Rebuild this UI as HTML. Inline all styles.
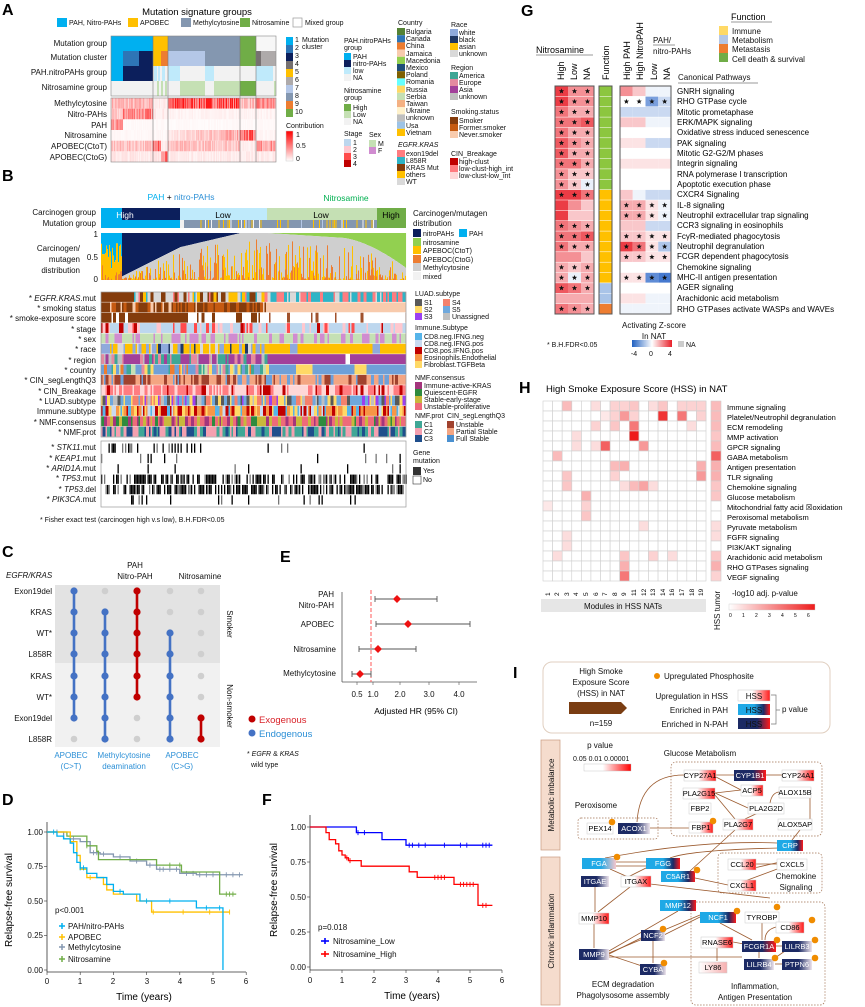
<!DOCTYPE html>
<html><head><meta charset="utf-8">
<style>
html,body{margin:0;padding:0;background:#fff;}
svg{display:block;font-family:"Liberation Sans",Arial,sans-serif;}
.pl{font-size:16px;font-weight:bold;}
.t{font-size:8px;fill:#111;}
.s{font-size:7px;fill:#111;}
.r{text-anchor:end;}
.m{text-anchor:middle;}
.it{font-style:italic;}
</style></head>
<body>
<svg id="sv" xmlns="http://www.w3.org/2000/svg" width="865" height="1007" viewBox="0 0 865 1007">
<defs>
<linearGradient id="gw" x1="0" x2="1"><stop offset="0" stop-color="#fff"/><stop offset="0.45" stop-color="#fff"/><stop offset="1" stop-color="#ff1a1a"/></linearGradient>
<linearGradient id="gw2" x1="0" x2="1"><stop offset="0" stop-color="#fff"/><stop offset="1" stop-color="#f6b0b0"/></linearGradient>
<linearGradient id="gnav" x1="0" x2="1"><stop offset="0" stop-color="#1c2a64"/><stop offset="0.55" stop-color="#1c2a64"/><stop offset="1" stop-color="#efe6ee"/></linearGradient>
<linearGradient id="gnr" x1="0" x2="1"><stop offset="0" stop-color="#1c2a64"/><stop offset="0.6" stop-color="#1c2a64"/><stop offset="1" stop-color="#ff1a1a"/></linearGradient>
<linearGradient id="gcr" x1="0" x2="1"><stop offset="0" stop-color="#1fa9e6"/><stop offset="0.5" stop-color="#1fa9e6"/><stop offset="0.8" stop-color="#1c2a64"/><stop offset="1" stop-color="#ff1a1a"/></linearGradient>
<linearGradient id="gcw" x1="0" x2="1"><stop offset="0" stop-color="#1fa9e6"/><stop offset="0.55" stop-color="#1fa9e6"/><stop offset="1" stop-color="#f6c6cc"/></linearGradient>
<linearGradient id="gcont" x1="0" x2="0" y1="0" y2="1"><stop offset="0" stop-color="#ff0000"/><stop offset="1" stop-color="#fff"/></linearGradient>
<linearGradient id="gz" x1="0" x2="1"><stop offset="0" stop-color="#2060c0"/><stop offset="0.5" stop-color="#fff"/><stop offset="1" stop-color="#e8202a"/></linearGradient>
<linearGradient id="gh" x1="0" x2="1"><stop offset="0" stop-color="#fff"/><stop offset="1" stop-color="#ee1c1c"/></linearGradient>
<linearGradient id="gp" x1="0" x2="1"><stop offset="0" stop-color="#fff"/><stop offset="0.4" stop-color="#fff"/><stop offset="1" stop-color="#ff0000"/></linearGradient>
</defs>
<g id="gfx"></g>

<!-- ===== A ===== -->
<text x="2" y="15" class="pl">A</text>
<text x="197" y="15" font-size="9.5" class="m">Mutation signature groups</text>
<rect x="57" y="18" width="10" height="9" fill="#00b0f0"/><text x="69" y="25" class="s">PAH, Nitro-PAHs</text>
<rect x="128" y="18" width="10" height="9" fill="#ffc000"/><text x="140" y="25" class="s">APOBEC</text>
<rect x="181" y="18" width="10" height="9" fill="#8497b0"/><text x="193" y="25" class="s">Methylcytosine</text>
<rect x="240" y="18" width="10" height="9" fill="#70ad47"/><text x="252" y="25" class="s">Nitrosamine</text>
<rect x="293" y="18" width="9" height="9" fill="#fff" stroke="#999" stroke-width="0.7"/><text x="305" y="25" class="s">Mixed group</text>
<text x="107" y="46" class="t r">Mutation group</text>
<text x="107" y="60" class="t r">Mutation cluster</text>
<text x="107" y="75" class="t r">PAH.nitroPAHs group</text>
<text x="107" y="90" class="t r">Nitrosamine group</text>
<text x="107" y="106" class="t r">Methylcytosine</text>
<text x="107" y="117" class="t r">Nitro-PAHs</text>
<text x="107" y="128" class="t r">PAH</text>
<text x="107" y="138" class="t r">Nitrosamine</text>
<text x="107" y="149" class="t r">APOBEC(CtoT)</text>
<text x="107" y="160" class="t r">APOBEC(CtoG)</text>
<!-- A legends -->
<g class="s">
<text x="295" y="42" class="s">1</text><text x="295" y="50" class="s">2</text><text x="295" y="58" class="s">3</text><text x="295" y="66" class="s">4</text><text x="295" y="74" class="s">5</text><text x="295" y="82" class="s">6</text><text x="295" y="90" class="s">7</text><text x="295" y="98" class="s">8</text><text x="295" y="106" class="s">9</text><text x="295" y="114" class="s">10</text>
</g>
<text x="302" y="42" class="s">Mutation</text><text x="302" y="49" class="s">cluster</text>
<text x="286" y="128" class="s">Contribution</text>
<rect x="286" y="131" width="7" height="30" fill="url(#gcont)" stroke="#ccc" stroke-width="0.5"/>
<text x="296" y="137" class="s">1</text><text x="296" y="148" class="s">0.5</text><text x="296" y="161" class="s">0</text>
<text x="344" y="43" class="s">PAH.nitroPAHs</text><text x="344" y="50" class="s">group</text>
<rect x="344" y="53" width="7" height="7" fill="#00b0f0"/><text x="353" y="59" class="s">PAH</text>
<rect x="344" y="60" width="7" height="7" fill="#0c1f5c"/><text x="353" y="66" class="s">nitro-PAHs</text>
<rect x="344" y="67" width="7" height="7" fill="#bfeafb"/><text x="353" y="73" class="s">low</text>
<rect x="344" y="74" width="7" height="7" fill="#f2f2f2"/><text x="353" y="80" class="s">NA</text>
<text x="344" y="93" class="s">Nitrosamine</text><text x="344" y="100" class="s">group</text>
<rect x="344" y="104" width="7" height="7" fill="#70ad47"/><text x="353" y="110" class="s">High</text>
<rect x="344" y="111" width="7" height="7" fill="#c5e0b4"/><text x="353" y="117" class="s">Low</text>
<rect x="344" y="118" width="7" height="7" fill="#f2f2f2"/><text x="353" y="124" class="s">NA</text>
<text x="344" y="136" class="s">Stage</text>
<rect x="344" y="139" width="7" height="7" fill="#bdd7ee"/><text x="353" y="145" class="s">1</text>
<rect x="344" y="146" width="7" height="7" fill="#ffc7ce"/><text x="353" y="152" class="s">2</text>
<rect x="344" y="153" width="7" height="7" fill="#ff4b4b"/><text x="353" y="159" class="s">3</text>
<rect x="344" y="160" width="7" height="7" fill="#c00000"/><text x="353" y="166" class="s">4</text>
<text x="369" y="137" class="s">Sex</text>
<rect x="369" y="140" width="7" height="7" fill="#c5e0b4"/><text x="378" y="146" class="s">M</text>
<rect x="369" y="147" width="7" height="7" fill="#d08cd0"/><text x="378" y="153" class="s">F</text>
<text x="398" y="25" class="s">Country</text>
<g id="country"></g>
<text x="406" y="34" class="s">Bulgaria</text><text x="406" y="41" class="s">Canada</text><text x="406" y="48" class="s">China</text><text x="406" y="56" class="s">Jamaica</text><text x="406" y="63" class="s">Macedonia</text><text x="406" y="70" class="s">Mexico</text><text x="406" y="77" class="s">Poland</text><text x="406" y="84" class="s">Romania</text><text x="406" y="92" class="s">Russia</text><text x="406" y="99" class="s">Serbia</text><text x="406" y="106" class="s">Taiwan</text><text x="406" y="113" class="s">Ukraine</text><text x="406" y="120" class="s">unknown</text><text x="406" y="128" class="s">Usa</text><text x="406" y="135" class="s">Vietnam</text>
<text x="398" y="147" class="s it">EGFR.KRAS</text>
<text x="406" y="156" class="s">exon19del</text><text x="406" y="163" class="s">L858R</text><text x="406" y="170" class="s">KRAS Mut</text><text x="406" y="177" class="s">others</text><text x="406" y="184" class="s">WT</text>
<text x="451" y="27" class="s">Race</text>
<text x="459" y="35" class="s">white</text><text x="459" y="42" class="s">black</text><text x="459" y="49" class="s">asian</text><text x="459" y="56" class="s">unknown</text>
<text x="451" y="70" class="s">Region</text>
<text x="459" y="78" class="s">America</text><text x="459" y="85" class="s">Europe</text><text x="459" y="92" class="s">Asia</text><text x="459" y="99" class="s">unknown</text>
<text x="451" y="114" class="s">Smoking.status</text>
<text x="459" y="123" class="s">Smoker</text><text x="459" y="130" class="s">Former.smoker</text><text x="459" y="137" class="s">Never.smoker</text>
<text x="451" y="156" class="s">CIN_Breakage</text>
<text x="459" y="164" class="s">high-clust</text><text x="459" y="171" class="s">low-clust-high_int</text><text x="459" y="178" class="s">low-clust-low_int</text>

<!-- ===== B ===== -->
<text x="2" y="181" class="pl">B</text>
<text x="181" y="200" font-size="8.5" class="m"><tspan fill="#00b0f0">PAH</tspan> + <tspan fill="#2b8fd6">nitro-PAHs</tspan></text>
<text x="346" y="201" font-size="8.5" class="m" fill="#00b050">Nitrosamine</text>
<text x="96" y="215" class="t r">Carcinogen group</text>
<text x="96" y="226" class="t r">Mutation group</text>
<text x="80" y="251" class="t r">Carcinogen/</text>
<text x="80" y="262" class="t r">mutagen</text>
<text x="80" y="273" class="t r">distribution</text>
<text x="98" y="237" class="t r">1</text><text x="98" y="260" class="t r">0.5</text><text x="98" y="282" class="t r">0</text>
<g class="t r">
<text x="96" y="301" class="t r">* <tspan class="it">EGFR.KRAS</tspan>.mut</text>
<text x="96" y="311" class="t r">* smoking status</text>
<text x="96" y="321" class="t r">* smoke-exposure score</text>
<text x="96" y="332" class="t r">* stage</text>
<text x="96" y="342" class="t r">* sex</text>
<text x="96" y="352" class="t r">* race</text>
<text x="96" y="363" class="t r">* region</text>
<text x="96" y="373" class="t r">* country</text>
<text x="96" y="383" class="t r">* CIN_segLengthQ3</text>
<text x="96" y="394" class="t r">* CIN_Breakage</text>
<text x="96" y="404" class="t r">* LUAD.subtype</text>
<text x="96" y="414" class="t r">Immune.subtype</text>
<text x="96" y="425" class="t r">* NMF.consensus</text>
<text x="96" y="435" class="t r">* NMF.prot</text>
<text x="96" y="450" class="t r">* <tspan class="it">STK11</tspan>.mut</text>
<text x="96" y="461" class="t r">* <tspan class="it">KEAP1</tspan>.mut</text>
<text x="96" y="471" class="t r">* <tspan class="it">ARID1A</tspan>.mut</text>
<text x="96" y="481" class="t r">* <tspan class="it">TP53</tspan>.mut</text>
<text x="96" y="492" class="t r">* <tspan class="it">TP53</tspan>.del</text>
<text x="96" y="502" class="t r">* <tspan class="it">PIK3CA</tspan>.mut</text>
</g>
<text x="125" y="218" font-size="8.5" class="m" fill="#fff">High</text>
<text x="223" y="218" font-size="8.5" class="m">Low</text>
<text x="321" y="218" font-size="8.5" class="m">Low</text>
<text x="391" y="218" font-size="8.5" class="m">High</text>
<text x="40" y="522" class="s">*  Fisher exact test  (carcinogen high v.s low), B.H.FDR&lt;0.05</text>
<!-- B legends -->
<text x="413" y="216" class="t">Carcinogen/mutagen</text><text x="413" y="226" class="t">distribution</text>
<text x="423" y="236" class="s">nitroPAHs</text><text x="469" y="236" class="s">PAH</text><text x="423" y="245" class="s">nitrosamine</text><text x="423" y="253" class="s">APEBOC(CtoT)</text><text x="423" y="262" class="s">APEBOC(CtoG)</text><text x="423" y="270" class="s">Methylcytosine</text><text x="423" y="279" class="s">mixed</text>
<text x="415" y="296" class="s">LUAD.subtype</text>
<text x="424" y="305" class="s">S1</text><text x="424" y="312" class="s">S2</text><text x="424" y="319" class="s">S3</text><text x="452" y="305" class="s">S4</text><text x="452" y="312" class="s">S5</text><text x="452" y="319" class="s">Unassigned</text>
<text x="415" y="330" class="s">Immune.Subtype</text>
<text x="424" y="339" class="s">CD8.neg.IFNG.neg</text><text x="424" y="346" class="s">CD8.neg.IFNG.pos</text><text x="424" y="353" class="s">CD8.pos.IFNG.pos</text><text x="424" y="360" class="s">Eosinophils.Endothelial</text><text x="424" y="367" class="s">Fibroblast.TGFBeta</text>
<text x="415" y="380" class="s">NMF.consensus</text>
<text x="424" y="388" class="s">Immune-active-KRAS</text><text x="424" y="395" class="s">Quiescent-EGFR</text><text x="424" y="402" class="s">Stable-early-stage</text><text x="424" y="409" class="s">Unstable-proliferative</text>
<text x="415" y="418" class="s">NMF.prot</text><text x="447" y="418" class="s">CIN_segLengthQ3</text>
<text x="424" y="427" class="s">C1</text><text x="424" y="434" class="s">C2</text><text x="424" y="441" class="s">C3</text>
<text x="456" y="427" class="s">Unstable</text><text x="456" y="434" class="s">Partial Stable</text><text x="456" y="441" class="s">Full Stable</text>
<text x="413" y="455" class="s">Gene</text><text x="413" y="463" class="s">mutation</text>
<text x="423" y="473" class="s">Yes</text><text x="423" y="482" class="s">No</text>

<!-- ===== C ===== -->
<text x="2" y="557" class="pl">C</text>
<text x="6" y="578" class="t it">EGFR/KRAS</text>
<text x="135" y="568" class="t m" fill="#d9232a">PAH</text>
<text x="135" y="579" class="t m" fill="#d9232a">Nitro-PAH</text>
<text x="200" y="579" class="t m" fill="#d9232a">Nitrosamine</text>
<text x="52" y="594" class="t r">Exon19del</text>
<text x="52" y="615" class="t r">KRAS</text>
<text x="52" y="636" class="t r">WT*</text>
<text x="52" y="657" class="t r">L858R</text>
<text x="52" y="679" class="t r">KRAS</text>
<text x="52" y="700" class="t r">WT*</text>
<text x="52" y="721" class="t r">Exon19del</text>
<text x="52" y="742" class="t r">L858R</text>
<text transform="translate(227,624) rotate(90)" class="t m" font-size="8.5">Smoker</text>
<text transform="translate(227,706) rotate(90)" class="t m" font-size="8.5">Non-smoker</text>
<g fill="#2b8fd6" font-size="8">
<text x="71" y="758" class="m">APOBEC</text><text x="71" y="769" class="m">(C&gt;T)</text>
<text x="124" y="758" class="m">Methylcytosine</text><text x="124" y="769" class="m">deamination</text>
<text x="182" y="758" class="m">APOBEC</text><text x="182" y="769" class="m">(C&gt;G)</text>
</g>
<circle cx="252" cy="719" r="3.5" fill="#c00000"/><text x="259" y="723" font-size="9.5" fill="#d9232a">Exogenous</text>
<circle cx="252" cy="733" r="3.5" fill="#4472c4"/><text x="259" y="737" font-size="9.5" fill="#2b8fd6">Endogenous</text>
<text x="247" y="756" class="s">* <tspan class="it">EGFR</tspan> &amp; <tspan class="it">KRAS</tspan></text>
<text x="251" y="767" class="s">wild type</text>

<!-- ===== E ===== -->
<text x="280" y="562" class="pl">E</text>
<text x="334" y="597" class="t r">PAH</text><text x="334" y="608" class="t r">Nitro-PAH</text>
<text x="334" y="627" class="t r">APOBEC</text>
<text x="336" y="652" class="t r">Nitrosamine</text>
<text x="336" y="676" class="t r">Methylcytosine</text>
<text x="357" y="697" class="t m">0.5</text><text x="373" y="697" class="t m">1.0</text><text x="400" y="697" class="t m">2.0</text><text x="429" y="697" class="t m">3.0</text><text x="459" y="697" class="t m">4.0</text>
<text x="416" y="714" font-size="8.5" class="m">Adjusted HR (95% CI)</text>

<!-- ===== D ===== -->
<text x="2" y="805" class="pl">D</text>
<text x="43" y="835" class="t r" font-size="8.5">1.00</text><text x="43" y="869" class="t r" font-size="8.5">0.75</text><text x="43" y="904" class="t r" font-size="8.5">0.50</text><text x="43" y="938" class="t r" font-size="8.5">0.25</text><text x="43" y="973" class="t r" font-size="8.5">0.00</text>
<text x="47" y="984" class="t m" font-size="8.5">0</text><text x="80" y="984" class="t m" font-size="8.5">1</text><text x="113" y="984" class="t m" font-size="8.5">2</text><text x="147" y="984" class="t m" font-size="8.5">3</text><text x="180" y="984" class="t m" font-size="8.5">4</text><text x="213" y="984" class="t m" font-size="8.5">5</text><text x="246" y="984" class="t m" font-size="8.5">6</text>
<text x="144" y="1000" font-size="10" class="m">Time (years)</text>
<text transform="translate(12,900) rotate(-90)" font-size="10" class="m">Relapse-free survival</text>
<text x="55" y="913" class="t">p&lt;0.001</text>
<text x="68" y="929" class="t">PAH/nitro-PAHs</text>
<text x="68" y="940" class="t">APOBEC</text>
<text x="68" y="950" class="t">Methylcytosine</text>
<text x="68" y="962" class="t">Nitrosamine</text>

<!-- ===== F ===== -->
<text x="262" y="805" class="pl">F</text>
<text x="306" y="830" class="t r" font-size="8.5">1.00</text><text x="306" y="865" class="t r" font-size="8.5">0.75</text><text x="306" y="900" class="t r" font-size="8.5">0.50</text><text x="306" y="935" class="t r" font-size="8.5">0.25</text><text x="306" y="970" class="t r" font-size="8.5">0.00</text>
<text x="310" y="983" class="t m" font-size="8.5">0</text><text x="342" y="983" class="t m" font-size="8.5">1</text><text x="374" y="983" class="t m" font-size="8.5">2</text><text x="406" y="983" class="t m" font-size="8.5">3</text><text x="438" y="983" class="t m" font-size="8.5">4</text><text x="470" y="983" class="t m" font-size="8.5">5</text><text x="502" y="983" class="t m" font-size="8.5">6</text>
<text x="412" y="999" font-size="10" class="m">Time (years)</text>
<text transform="translate(277,890) rotate(-90)" font-size="10" class="m">Relapse-free survival</text>
<text x="318" y="930" class="t">p=0.018</text>
<text x="333" y="944" class="t">Nitrosamine_Low</text>
<text x="333" y="957" class="t">Nitrosamine_High</text>

<!-- ===== G ===== -->
<text x="521" y="16" class="pl">G</text>
<text x="731" y="20" font-size="9">Function</text><line x1="731" y1="22" x2="772" y2="22" stroke="#333" stroke-width="0.6"/>
<rect x="719" y="26" width="9" height="9" fill="#ffd966"/><text x="732" y="34" class="t">Immune</text>
<rect x="719" y="35" width="9" height="9" fill="#b4c7e7"/><text x="732" y="43" class="t">Metabolism</text>
<rect x="719" y="44" width="9" height="9" fill="#ed7d31"/><text x="732" y="52" class="t">Metastasis</text>
<rect x="719" y="53" width="9" height="9" fill="#70ad47"/><text x="732" y="62" class="t">Cell death &amp; survival</text>
<text x="536" y="53" font-size="9">Nitrosamine</text><line x1="536" y1="55" x2="593" y2="55" stroke="#333" stroke-width="0.6"/>
<text transform="translate(564,80) rotate(-90)" font-size="9">High</text>
<text transform="translate(577,80) rotate(-90)" font-size="9">Low</text>
<text transform="translate(590,80) rotate(-90)" font-size="9">NA</text>
<text transform="translate(609,80) rotate(-90)" font-size="9">Function</text>
<text transform="translate(630,80) rotate(-90)" font-size="9">High PAH</text>
<text transform="translate(643,80) rotate(-90)" font-size="9">High NitroPAH</text>
<text transform="translate(657,80) rotate(-90)" font-size="9">Low</text>
<text transform="translate(670,80) rotate(-90)" font-size="9">NA</text>
<text x="653" y="43" class="t">PAH/</text><text x="653" y="54" class="t">nitro-PAHs</text><line x1="653" y1="45" x2="675" y2="45" stroke="#333" stroke-width="0.5"/>
<text x="678" y="80" class="t">Canonical Pathways</text><line x1="678" y1="83" x2="758" y2="83" stroke="#333" stroke-width="0.5"/>
<g font-size="8">
<text x="677" y="94">GNRH signaling</text>
<text x="677" y="104">RHO GTPase cycle</text>
<text x="677" y="115">Mitotic prometaphase</text>
<text x="677" y="125">ERK/MAPK signaling</text>
<text x="677" y="135">Oxidative stress induced senescence</text>
<text x="677" y="146">PAK signaling</text>
<text x="677" y="156">Mitotic G2-G2/M phases</text>
<text x="677" y="166">Integrin signaling</text>
<text x="677" y="177">RNA polymerase I transcription</text>
<text x="677" y="187">Apoptotic execution phase</text>
<text x="677" y="197">CXCR4 Signaling</text>
<text x="677" y="208">IL-8 signaling</text>
<text x="677" y="218">Neutrophil extracellular trap signaling</text>
<text x="677" y="228">CCR3 signaling in eosinophils</text>
<text x="677" y="239">FcγR-mediated phagocytosis</text>
<text x="677" y="249">Neutrophil degranulation</text>
<text x="677" y="259">FCGR dependent phagocytosis</text>
<text x="677" y="270">Chemokine signaling</text>
<text x="677" y="280">MHC-II antigen presentation</text>
<text x="677" y="290">AGER signaling</text>
<text x="677" y="301">Arachidonic acid metabolism</text>
<text x="677" y="312">RHO GTPases activate WASPs and WAVEs</text>
</g>
<text x="654" y="328" class="t m">Activating Z-score</text>
<text x="654" y="339" class="t m">In NAT</text>
<rect x="632" y="340" width="40" height="7" fill="url(#gz)"/>
<text x="634" y="356" class="s m">-4</text><text x="651" y="356" class="s m">0</text><text x="670" y="356" class="s m">4</text>
<rect x="678" y="341" width="6" height="6" fill="#ccc"/><text x="686" y="347" class="s">NA</text>
<text x="547" y="347" class="s">* B.H.FDR&lt;0.05</text>

<!-- ===== H ===== -->
<text x="519" y="393" class="pl">H</text>
<text x="546" y="392" font-size="9.5">High Smoke Exposure Score (HSS) in NAT</text>
<g font-size="7.5">
<text x="727" y="410">Immune signaling</text>
<text x="727" y="420">Platelet/Neutrophil degranulation</text>
<text x="727" y="430">ECM remodeling</text>
<text x="727" y="440">MMP activation</text>
<text x="727" y="450">GPCR signaling</text>
<text x="727" y="460">GABA metabolism</text>
<text x="727" y="470">Antigen presentation</text>
<text x="727" y="480">TLR signaling</text>
<text x="727" y="490">Chemokine signaling</text>
<text x="727" y="500">Glucose metabolism</text>
<text x="727" y="510">Mitochondrial fatty acid ☒oxidation</text>
<text x="727" y="520">Peroxisomal metabolism</text>
<text x="727" y="530">Pyruvate metabolism</text>
<text x="727" y="540">FGFR signaling</text>
<text x="727" y="550">PI3K/AKT signaling</text>
<text x="727" y="560">Arachidonic acid metabolism</text>
<text x="727" y="570">RHO GTPases signaling</text>
<text x="727" y="580">VEGF signaling</text>
</g>
<g font-size="6.5">
<text transform="translate(550,596) rotate(-90)">1</text><text transform="translate(559,596) rotate(-90)">2</text><text transform="translate(569,596) rotate(-90)">3</text><text transform="translate(578,596) rotate(-90)">4</text><text transform="translate(588,596) rotate(-90)">5</text><text transform="translate(598,596) rotate(-90)">6</text><text transform="translate(607,596) rotate(-90)">7</text><text transform="translate(617,596) rotate(-90)">8</text><text transform="translate(626,596) rotate(-90)">9</text><text transform="translate(636,596) rotate(-90)">11</text><text transform="translate(646,596) rotate(-90)">12</text><text transform="translate(655,596) rotate(-90)">13</text><text transform="translate(665,596) rotate(-90)">14</text><text transform="translate(674,596) rotate(-90)">16</text><text transform="translate(684,596) rotate(-90)">17</text><text transform="translate(694,596) rotate(-90)">18</text><text transform="translate(703,596) rotate(-90)">19</text>
</g>
<rect x="541" y="599" width="165" height="13" fill="#e6e6e6"/>
<text x="623" y="609" class="t m">Modules in HSS NATs</text>
<text transform="translate(720,630) rotate(-90)" class="t">HSS tumor</text>
<text x="732" y="596" class="t">-log10 adj. p-value</text>
<rect x="729" y="604" width="86" height="6" fill="url(#gh)" stroke="#ccc" stroke-width="0.4"/>
<g font-size="5"><text x="729" y="617">0</text><text x="742" y="617">1</text><text x="755" y="617">2</text><text x="768" y="617">3</text><text x="781" y="617">4</text><text x="794" y="617">5</text><text x="807" y="617">6</text></g>

<!-- ===== I ===== -->
<text x="513" y="678" class="pl">I</text>
<rect x="543" y="662" width="287" height="71" rx="9" fill="#fff" stroke="#e0cfc0" stroke-width="1"/>
<text x="601" y="674" class="t m">High Smoke</text><text x="601" y="685" class="t m">Exposure Score</text><text x="601" y="696" class="t m">(HSS) in NAT</text>
<polygon points="569,702 621,702 627,708 621,714 569,714" fill="#7a3d12"/>
<text x="601" y="726" class="t m">n=159</text>
<circle cx="657" cy="676" r="3" fill="#f08c00"/><text x="664" y="679" class="t">Upregulated Phosphosite</text>
<text x="728" y="699" class="t r">Upregulation in HSS</text>
<text x="728" y="713" class="t r">Enriched in PAH</text>
<text x="728" y="727" class="t r">Enriched in N-PAH</text>
<rect x="738" y="690" width="32" height="11" fill="url(#gw)" stroke="#ccc" stroke-width="0.5"/><text x="754" y="699" class="t m">HSS</text>
<rect x="738" y="704" width="32" height="11" fill="url(#gcr)"/><text x="754" y="713" class="t m" fill="#fff">HSS</text>
<rect x="738" y="718" width="32" height="11" fill="url(#gnr)"/><text x="754" y="727" class="t m" fill="#fff">HSS</text>
<path d="M771 695 H776 V724 H771 M776 710 H780" fill="none" stroke="#777" stroke-width="0.7"/>
<text x="782" y="712" class="t">p value</text>
<rect x="541" y="740" width="19" height="110" fill="#f5dccd" stroke="#c89a80" stroke-width="0.7"/>
<text transform="translate(554,795) rotate(-90)" class="t m">Metabolic imbalance</text>
<rect x="541" y="857" width="19" height="148" fill="#f5dccd" stroke="#c89a80" stroke-width="0.7"/>
<text transform="translate(554,931) rotate(-90)" class="t m">Chronic inflammation</text>
<text x="600" y="748" class="t m">p value</text>
<text x="573" y="761" class="s">0.05   0.01  0.00001</text>
<rect x="584" y="764" width="47" height="7" fill="url(#gp)" stroke="#bbb" stroke-width="0.4"/>
<g fill="none" stroke="#a07050" stroke-width="0.7" stroke-dasharray="1.5,1.5">
<rect x="671" y="762" width="151" height="74" rx="5"/>
<rect x="578" y="818" width="80" height="21" rx="3"/>
<rect x="718" y="853" width="104" height="40" rx="4"/>
<rect x="691" y="902" width="134" height="103" rx="5"/>
</g>
<text x="700" y="756" class="t m" fill="#9b4a1a" font-size="8.5">Glucose Metabolism</text>
<text x="596" y="808" class="t m" fill="#9b4a1a" font-size="8.5">Peroxisome</text>
<text x="796" y="879" class="t m" fill="#9b4a1a" font-size="8.5">Chemokine</text>
<text x="796" y="890" class="t m" fill="#9b4a1a" font-size="8.5">Signaling</text>
<text x="623" y="987" class="t m" fill="#9b4a1a" font-size="8.5">ECM degradation</text>
<text x="623" y="998" class="t m" fill="#9b4a1a" font-size="8.5">Phagolysosome assembly</text>
<text x="755" y="989" class="t m" fill="#9b4a1a" font-size="8.5">Inflammation,</text>
<text x="755" y="1000" class="t m" fill="#9b4a1a" font-size="8.5">Antigen Presentation</text>
<g id="edges" fill="none" stroke="#9b5a2e" stroke-width="0.8">
<path d="M650 828 H689"/><path d="M637 822 Q640 775 684 775"/><path d="M716 775 H734"/><path d="M766 775 H782"/>
<path d="M716 777 L741 790"/><path d="M715 793 L741 790"/><path d="M715 793 L748 808"/><path d="M715 795 L735 819"/><path d="M760 812 L745 819"/>
<path d="M770 803 Q772 792 780 792"/><path d="M810 797 V819"/><path d="M800 830 L792 840"/><path d="M735 830 L690 871"/>
<path d="M777 843 Q700 840 605 858"/><path d="M779 848 Q690 850 670 858"/><path d="M616 862 H646"/><path d="M610 869 L628 877 L650 866 L612 866"/>
<path d="M595 887 V912"/><path d="M594 924 V948"/><path d="M630 887 L598 912"/><path d="M650 884 L770 898"/>
<path d="M695 878 L728 885"/><path d="M756 864 L777 864"/><path d="M754 868 L780 862 M745 881 L780 868"/>
<path d="M678 911 L609 951"/><path d="M609 954 L643 937"/><path d="M609 955 L642 966"/><path d="M609 953 L700 915"/><path d="M609 957 H742"/>
<path d="M653 941 V963"/><path d="M664 935 L700 917"/><path d="M720 923 L752 940"/><path d="M762 923 V940"/><path d="M776 927 Q765 930 765 940"/>
<path d="M717 948 V961"/><path d="M733 942 L744 944"/><path d="M776 946 H782"/><path d="M759 952 V958"/><path d="M775 964 H782"/><path d="M785 951 L772 960"/>
</g>
<g id="nodes" font-size="7.5" text-anchor="middle">
<rect x="684" y="770" width="32" height="11" fill="url(#gw)" stroke="#ccc" stroke-width="0.5"/><text x="700" y="778">CYP27A1</text>
<rect x="734" y="770" width="32" height="11" fill="url(#gnr)"/><text x="750" y="778" fill="#fff">CYP1B1</text>
<rect x="782" y="770" width="32" height="11" fill="url(#gw)" stroke="#ccc" stroke-width="0.5"/><text x="798" y="778">CYP24A1</text>
<rect x="683" y="788" width="32" height="11" fill="url(#gw)" stroke="#ccc" stroke-width="0.5"/><text x="699" y="796">PLA2G15</text>
<rect x="741" y="785" width="22" height="11" fill="url(#gw)" stroke="#ccc" stroke-width="0.5"/><text x="752" y="793">ACP5</text>
<rect x="779" y="787" width="32" height="11" fill="#fff" stroke="#ccc" stroke-width="0.5"/><text x="795" y="795">ALOX15B</text>
<rect x="689" y="803" width="22" height="11" fill="#fff" stroke="#ccc" stroke-width="0.5"/><text x="700" y="811">FBP2</text>
<rect x="748" y="803" width="36" height="11" fill="#fff" stroke="#ccc" stroke-width="0.5"/><text x="766" y="811">PLA2G2D</text>
<rect x="587" y="823" width="26" height="11" fill="#fff" stroke="#ccc" stroke-width="0.5"/><text x="600" y="831">PEX14</text>
<rect x="618" y="823" width="32" height="11" fill="url(#gnav)"/><text x="634" y="831" fill="#fff">ACOX1</text>
<rect x="689" y="822" width="24" height="11" fill="url(#gw)" stroke="#ccc" stroke-width="0.5"/><text x="701" y="830">FBP1</text>
<rect x="723" y="819" width="30" height="11" fill="url(#gw)" stroke="#ccc" stroke-width="0.5"/><text x="738" y="827">PLA2G7</text>
<rect x="778" y="819" width="34" height="11" fill="#fff" stroke="#ccc" stroke-width="0.5"/><text x="795" y="827">ALOX5AP</text>
<rect x="777" y="840" width="26" height="11" fill="url(#gcr)"/><text x="790" y="848" fill="#fff">CRP</text>
<rect x="582" y="858" width="34" height="11" fill="url(#gcw)"/><text x="599" y="866" fill="#fff">FGA</text>
<rect x="646" y="858" width="34" height="11" fill="url(#gcr)"/><text x="663" y="866" fill="#fff">FGG</text>
<rect x="728" y="859" width="28" height="11" fill="url(#gw)" stroke="#ccc" stroke-width="0.5"/><text x="742" y="867">CCL20</text>
<rect x="777" y="859" width="30" height="11" fill="#fff" stroke="#ccc" stroke-width="0.5"/><text x="792" y="867">CXCL5</text>
<rect x="581" y="876" width="28" height="11" fill="url(#gnav)"/><text x="595" y="884" fill="#fff">ITGAE</text>
<rect x="621" y="876" width="30" height="11" fill="url(#gw)" stroke="#ccc" stroke-width="0.5"/><text x="636" y="884">ITGAX</text>
<rect x="661" y="871" width="34" height="11" fill="url(#gcr)"/><text x="678" y="879" fill="#fff">C5AR1</text>
<rect x="728" y="880" width="28" height="11" fill="url(#gw)" stroke="#ccc" stroke-width="0.5"/><text x="742" y="888">CXCL1</text>
<rect x="660" y="900" width="36" height="11" fill="url(#gcr)"/><text x="678" y="908" fill="#fff">MMP12</text>
<rect x="579" y="913" width="30" height="11" fill="url(#gw)" stroke="#ccc" stroke-width="0.5"/><text x="594" y="921">MMP10</text>
<rect x="700" y="912" width="36" height="11" fill="url(#gcr)"/><text x="718" y="920" fill="#fff">NCF1</text>
<rect x="745" y="912" width="34" height="11" fill="#fff" stroke="#ccc" stroke-width="0.5"/><text x="762" y="920">TYROBP</text>
<rect x="776" y="922" width="28" height="11" fill="url(#gw)" stroke="#ccc" stroke-width="0.5"/><text x="790" y="930">CD86</text>
<rect x="641" y="930" width="24" height="11" fill="url(#gnav)"/><text x="653" y="938" fill="#fff">NCF2</text>
<rect x="701" y="937" width="32" height="11" fill="url(#gw)" stroke="#ccc" stroke-width="0.5"/><text x="717" y="945">RNASE6</text>
<rect x="742" y="941" width="34" height="11" fill="url(#gnr)"/><text x="759" y="949" fill="#fff">FCGR1A</text>
<rect x="782" y="941" width="30" height="11" fill="url(#gnav)"/><text x="797" y="949" fill="#fff">LILRB3</text>
<rect x="579" y="949" width="30" height="11" fill="url(#gnav)"/><text x="594" y="957" fill="#fff">MMP9</text>
<rect x="699" y="962" width="28" height="11" fill="url(#gw2)" stroke="#ccc" stroke-width="0.5"/><text x="713" y="970">LY86</text>
<rect x="744" y="959" width="30" height="11" fill="url(#gnav)"/><text x="759" y="967" fill="#fff">LILRB4</text>
<rect x="782" y="959" width="30" height="11" fill="url(#gnav)"/><text x="797" y="967" fill="#fff">PTPN6</text>
<rect x="640" y="964" width="26" height="11" fill="url(#gnav)"/><text x="653" y="972" fill="#fff">CYBA</text>
</g>
<g fill="#f08c00">
<circle cx="612" cy="822" r="3.3"/><circle cx="713" cy="821" r="3.3"/><circle cx="617" cy="857" r="3.3"/><circle cx="697" cy="870" r="3.3"/><circle cx="737" cy="911" r="3.3"/><circle cx="777" cy="907" r="3.3"/><circle cx="812" cy="920" r="3.3"/><circle cx="663" cy="929" r="3.3"/><circle cx="777" cy="940" r="3.3"/><circle cx="815" cy="940" r="3.3"/><circle cx="775" cy="958" r="3.3"/><circle cx="815" cy="958" r="3.3"/><circle cx="664" cy="963" r="3.3"/>
</g>
</svg>
<script>
(function(){
var NS='http://www.w3.org/2000/svg';
var G=document.getElementById('gfx');
var seed=7;function rnd(){seed=(seed*16807)%2147483647;return seed/2147483647;}
function el(tag,attrs,parent){var e=document.createElementNS(NS,tag);for(var k in attrs)e.setAttribute(k,attrs[k]);(parent||G).appendChild(e);return e;}
function R(x,y,w,h,f,p){return el('rect',{x:x,y:y,width:w,height:h,fill:f},p);}
function hex(c){return [parseInt(c.substr(1,2),16),parseInt(c.substr(3,2),16),parseInt(c.substr(5,2),16)];}
function mix(a,b,t){t=Math.max(0,Math.min(1,t));var A=hex(a),B=hex(b);return 'rgb('+A.map(function(v,i){return Math.round(v+(B[i]-v)*t);}).join(',')+')';}
function pick(arr){var s=0,i;for(i=0;i<arr.length;i++)s+=arr[i][1];var r=rnd()*s;for(i=0;i<arr.length;i++){r-=arr[i][1];if(r<=0)return arr[i][0];}return arr[0][0];}
function L(x1,y1,x2,y2,c,w,p,extra){var e=el('line',{x1:x1,y1:y1,x2:x2,y2:y2,stroke:c,'stroke-width':w||1},p);if(extra)for(var k in extra)e.setAttribute(k,extra[k]);return e;}

/* ---- A ---- */
function segs(y,h,list){list.forEach(function(s){R(s[0],y,s[1]-s[0],h,s[2]);});}
segs(36,15,[[111,153,'#00b0f0'],[153,168,'#ffc000'],[168,240,'#8497b0'],[240,256,'#70ad47'],[256,276,'#f7f7f7']]);
segs(51,15,[[111,123,'#00b0f0'],[123,139,'#2e75b6'],[139,153,'#0c1f5c'],[153,161,'#ffc000'],[161,168,'#ed7d31'],[168,205,'#b4c7e7'],[205,240,'#8497b0'],[240,256,'#70ad47'],[256,261,'#767171'],[261,276,'#aeaaaa']]);
segs(66,15,[[111,123,'#00b0f0'],[123,153,'#0c1f5c'],[153,168,'#f2f2f2'],[168,180,'#bfeafb'],[180,205,'#f2f2f2'],[205,214,'#bfeafb'],[214,240,'#f2f2f2'],[240,256,'#f2f2f2'],[256,273,'#bfeafb'],[273,276,'#f2f2f2']]);
R(154,66,3,15,'#bfeafb');R(158,66,2,15,'#bfeafb');R(162,66,3,15,'#bfeafb');
segs(81,15,[[111,153,'#f2f2f2'],[153,168,'#f2f2f2'],[168,180,'#f2f2f2'],[180,205,'#c5e0b4'],[205,214,'#f2f2f2'],[214,240,'#c5e0b4'],[240,256,'#70ad47'],[256,274,'#f2f2f2'],[274,276,'#c5e0b4']]);
R(157,81,2,15,'#c5e0b4');R(161,81,2,15,'#c5e0b4');R(165,81,2,15,'#c5e0b4');
var specs=[
 function(x){return x<153?0.35:x<168?0.1:x<240?0.85:x<256?0.35:0.55;},
 function(x){return x<123?0.25:x<153?0.6:x<168?0.1:0.06;},
 function(x){return x<123?0.5:0.03;},
 function(x){return x<168?0.04:x<240?0.1+0.35*(x-168)/72:x<256?0.75:0.05;},
 function(x){return x<153?0.3:x<161?0.95:x<168?0.1:x<240?0.3:x<256?0.1:0.5;},
 function(x){return x<161?0.12:x<168?0.8:0.1;}];
for(var r=0;r<6;r++){var y=98+r*10.67;for(var x=111;x<276;x++){var v=specs[r](x)*(0.45+0.75*rnd());R(x,y,1.05,10.7,mix('#ffffff','#ff1010',v));}}
[153,168,240,256].forEach(function(x){L(x,36,x,162,'#777',0.6);});
el('rect',{x:111,y:36,width:165,height:60,fill:'none',stroke:'#888','stroke-width':0.6});
el('rect',{x:111,y:98,width:165,height:64,fill:'none',stroke:'#888','stroke-width':0.6});
var cl=['#00b0f0','#2e75b6','#0c1f5c','#767171','#ffc000','#aeaaaa','#b4c7e7','#8497b0','#ed7d31','#70ad47'];
cl.forEach(function(c,i){R(286,37+i*8,7,8,c);});
var cc=['#548235','#2e75b6','#ed7d31','#f8cbad','#92d050','#1f4e79','#7f6000','#66ffff','#ffd966','#c5e0b4','#f4b183','#fff2cc','#bfbfbf','#9dc3e6','#ffc000'];
cc.forEach(function(c,i){R(397,28+i*7.2,8,7.2,c);});
['#ff7c80','#2eb4c6','#843c0c','#ffc000','#d9d9d9'].forEach(function(c,i){R(397,150+i*7,8,7,c);});
['#8faadc','#203864','#ffc000','#d9d9d9'].forEach(function(c,i){R(450,29+i*7,8,7,c);});
['#3fa796','#e48aa0','#a2409a','#bfbfbf'].forEach(function(c,i){R(450,72+i*7,8,7,c);});
['#843c0c','#c55a11','#f8cbad'].forEach(function(c,i){R(450,117+i*7,8,7,c);});
['#c00000','#ff7c80','#ffd7d7'].forEach(function(c,i){R(450,158+i*7,8,7,c);});

/* ---- B ---- */
segs(208,12,[[101,122,'#00b0f0'],[122,180,'#0c1f5c'],[180,267,'#bfeafb'],[267,377,'#c5e0b4'],[377,406,'#70ad47']]);
R(101,220,305,8,'#8497b0');R(101,220,79,8,'#00b0f0');R(180,220,4,8,'#f2f2f2');R(377,220,29,8,'#70ad47');
for(var x=184;x<377;x+=1.5){var q=rnd();if(q<0.2)R(x,220,1,8,'#ffc000');else if(q<0.28)R(x,220,1,8,'#f2f2f2');else if(q<0.33)R(x,220,1,8,'#b4c7e7');}
var y0=233,H=47;
for(var x=101;x<406;x++){
  var g;
  if(x<122)g=0.25+0.6*rnd();
  else if(x<180)g=0.08+0.62*(x-122)/58;
  else if(x<240)g=0.7+0.3*(x-180)/60;
  else if(x<267)g=1;
  else if(x<340)g=1-0.1*(x-267)/73;
  else g=0.9-0.65*Math.pow((x-340)/66,1.6);
  var top=x<122?'#00b0f0':(x<267?'#0c1f5c':'#92d050');
  R(x,y0,1.05,H*(1-g),top);
  if(x>=180&&x<267&&rnd()<0.25){R(x,y0+H*(1-g),1.05,H*0.1*rnd(),rnd()<0.5?'#00b0f0':'#0c1f5c');}
  var mid=(x<122)?'#ffc000':'#cfcfcf';
  R(x,y0+H*(1-g),1.05,H*g,mid);
  var sp=H*g*Math.pow(rnd(),2.2)*(x<122?0.6:0.9);
  var yc=(x>=245&&x<267&&rnd()<0.5)?'#ffc000':(rnd()<0.6?'#ffc000':'#ed7d31');
  R(x,y0+H-sp,1.05,sp,yc);
  if(rnd()<0.3){var s2=sp*0.4;R(x,y0+H-s2,1.05,s2,'#ed7d31');}
}
var rows=[
 function(x){return x<130?[['#843c0c',8],['#d9d9d9',1]]:x<267?[['#843c0c',3],['#d9d9d9',3],['#ffc000',1],['#ff7c80',1],['#2eb4c6',1]]:[['#ff7c80',3],['#2eb4c6',3],['#d9d9d9',1]];},
 function(x){return x<267?[['#843c0c',4],['#c55a11',3],['#f8cbad',1]]:[['#f8cbad',1]];},
 function(x){return x<180?[['#843c0c',6],['#fff',1]]:x<267?[['#fff',2],['#843c0c',1]]:[['#fff',8],['#a0522d',1]];},
 function(x){return [['#bdd7ee',5],['#ffc7ce',2],['#ff4b4b',1],['#c00000',0.6]];},
 function(x){return [['#c5e0b4',3],['#d08cd0',2]];},
 function(x){return x<267?[['#ffc000',4],['#8faadc',2],['#203864',1],['#d9d9d9',1]]:[['#ffc000',12],['#8faadc',1]];},
 function(x){return x<267?[['#a2409a',4],['#3fa796',2],['#e48aa0',2],['#bfbfbf',1]]:[['#a2409a',14],['#fff',1]];},
 function(x){return x<267?[['#6fa0d8',3],['#ffd966',1],['#ed7d31',1],['#3fa796',1],['#e48aa0',1],['#c5e0b4',1]]:[['#6fa0d8',14],['#ffd966',1]];},
 function(x){return [['#a0422e',3],['#f4a582',4],['#6fa0d8',1.5]];},
 function(x){return [['#c00000',1.5],['#ff7c80',3],['#ffd7d7',3]];},
 function(x){return [['#595959',1],['#ffd966',2],['#9b40f0',1],['#f4816c',2],['#6fa8dc',2],['#bfbfbf',1]];},
 function(x){return [['#56b4e9',1.5],['#c9daf0',1.5],['#c00000',2],['#f79646',3],['#ffd966',2]];},
 function(x){return [['#a4357c',2],['#2e8b3e',1],['#c8b83c',2],['#ee6a7a',3]];},
 function(x){return [['#3fa796',2],['#f4a0b0',2],['#1f4e8c',2]];}];
for(var r=0;r<rows.length;r++){var y=292+r*10.36;var x=101;while(x<406){var w=1.5*(1+Math.floor(rnd()*(r==1&&x>=267||r==6&&x>=267||r==7&&x>=267||r==5&&x>=267?12:2)));if(x+w>406)w=406-x;R(x,y,w+0.05,9.9,pick(rows[r](x)));x+=w;}}
el('rect',{x:101,y:292,width:305,height:145,fill:'none',stroke:'#999','stroke-width':0.7});
var gp=[function(x){return x<200?0.3:0.04;},function(x){return x<180?0.15:0.03;},function(x){return x<200?0.06:0.02;},function(x){return 0.55;},function(x){return 0.62;},function(x){return 0.05;}];
for(var r=0;r<6;r++){var y=443+r*10.36;for(var x=101;x<406;x+=1.5){if(rnd()<gp[r](x))R(x,y+0.5,1.3,9.3,rnd()<0.75?'#000':'#777');}}
el('rect',{x:101,y:441,width:305,height:66,fill:'none',stroke:'#999','stroke-width':0.7});
R(413,229,8,8,'#0c1f5c');R(459,229,8,8,'#00b0f0');R(413,238,8,8,'#92d050');R(413,246,8,8,'#ffc000');R(413,255,8,8,'#ed7d31');R(413,263,8,8,'#cfcfcf');R(413,272,8,8,'#f2f2f2');
R(415,299,7,7,'#595959');R(415,306,7,7,'#ffd966');R(415,313,7,7,'#9b40f0');R(443,299,7,7,'#f4816c');R(443,306,7,7,'#6fa8dc');R(443,313,7,7,'#bfbfbf');
['#56b4e9','#c9daf0','#c00000','#f79646','#ffd966'].forEach(function(c,i){R(415,333+i*7,7,7,c);});
['#a4357c','#2e8b3e','#c8b83c','#ee6a7a'].forEach(function(c,i){R(415,382+i*7,7,7,c);});
['#3fa796','#f4a0b0','#1f4e8c'].forEach(function(c,i){R(415,421+i*7,7,7,c);});
['#a0422e','#f4a582','#4a90d0'].forEach(function(c,i){R(447,421+i*7,7,7,c);});
R(413,467,8,8,'#333');el('rect',{x:413,y:476,width:8,height:8,fill:'#fff',stroke:'#333','stroke-width':0.6});

/* ---- C ---- */
R(55,585,165,78,'#e3e3e3');R(55,663,165,84,'#f1f1f1');
var cy=[591,612,633,654,676,697,718,739],cx=[74,105,137,170,201];
var lines=[[0,6,'#4472c4'],[1,7,'#4472c4'],[0,5,'#c00000'],[2,7,'#4472c4'],[6,7,'#c00000']];
for(var c=0;c<5;c++){for(var rr=0;rr<8;rr++){var on=rr>=lines[c][0]&&rr<=lines[c][1];el('circle',{cx:cx[c],cy:cy[rr],r:on?3.6:3.3,fill:on?lines[c][2]:'#cfcfcf'});}
 L(cx[c],cy[lines[c][0]],cx[c],cy[lines[c][1]],lines[c][2],2.6);}

/* ---- E ---- */
L(342,592,342,682,'#555',0.8);L(342,682,477,682,'#555',0.8);
[357,373,400,429,459].forEach(function(x){L(x,682,x,685,'#555',0.6);});
L(371,590,371,682,'#ff5a5a',1,null,{'stroke-dasharray':'4,2'});
[[599,375,437,397],[624,376,470,408],[649,359,416,378],[674,352,371,360]].forEach(function(e){L(e[1],e[0],e[2],e[0],'#555',0.9);L(e[1],e[0]-3,e[1],e[0]+3,'#555',0.9);L(e[2],e[0]-3,e[2],e[0]+3,'#555',0.9);el('polygon',{points:(e[3]-4)+','+e[0]+' '+e[3]+','+(e[0]-4)+' '+(e[3]+4)+','+e[0]+' '+e[3]+','+(e[0]+4),fill:'#ee1111'});});

/* ---- KM ---- */
function sAt(pts,t){var s=pts[0][1];for(var i=0;i<pts.length;i++){if(pts[i][0]<=t)s=pts[i][1];}return s;}
function km(pts,x0,sx,y0,sy,c,cens){var d='M'+(x0+pts[0][0]*sx)+','+(y0+(1-pts[0][1])*sy);for(var i=1;i<pts.length;i++){d+=' H'+(x0+pts[i][0]*sx)+' V'+(y0+(1-pts[i][1])*sy);}el('path',{d:d,fill:'none',stroke:c,'stroke-width':1.3});
 (cens||[]).forEach(function(t){var yy=y0+(1-sAt(pts,t))*sy,xx=x0+t*sx;L(xx,yy-2.5,xx,yy+2.5,c,0.9);});}
L(47,822,47,972,'#333',0.8);L(47,972,246,972,'#333',0.8);
for(var k=0;k<=6;k++)L(47+33.2*k,972,47+33.2*k,975,'#333',0.6);
[832,866.5,901,935.5,970].forEach(function(y){L(44,y,47,y,'#333',0.6);});
var dx=47,dsx=33.2,dy=832,dsy=138;
km([[0,1],[0.5,0.95],[1,0.93],[1.3,0.85],[1.6,0.84],[2,0.82],[2.5,0.79],[3,0.76],[3.3,0.73],[4,0.70],[4.5,0.69],[5.9,0.69]],dx,dsx,dy,dsy,'#8497b0',[0.3,0.8,1.4,1.5,1.7,2.2,2.7,3.1,3.4,3.5,3.7,3.9,4.2,4.4,4.6,4.8,5,5.2,5.4,5.6,5.8]);
km([[0,1],[0.5,1],[0.6,0.97],[1.2,0.90],[1.5,0.86],[1.55,0.80],[3.3,0.80],[3.3,0.76],[4.0,0.76],[4.05,0.71],[5.2,0.66],[5.2,0.55],[5.7,0.55]],dx,dsx,dy,dsy,'#70ad47',[1.2,3.7,4.0,5.4,5.5,5.6]);
km([[0,1],[0.6,1],[0.7,0.93],[0.9,0.83],[1,0.73],[1.2,0.67],[1.7,0.62],[1.8,0.58],[2,0.55],[2.7,0.50],[3.15,0.42],[5.5,0.42]],dx,dsx,dy,dsy,'#ffc000',[1.3,3.2,4.1,4.9,5.5]);
km([[0,1],[0.3,0.97],[0.5,0.95],[0.7,0.92],[0.8,0.85],[0.9,0.78],[1,0.74],[1.2,0.70],[1.5,0.67],[1.8,0.62],[2,0.57],[2.3,0.55],[2.8,0.50],[4.5,0.45],[5.3,0.45],[5.3,0]],dx,dsx,dy,dsy,'#00b0f0',[0.2,1.0,1.1,2.2,3.0,3.7,4.8,5.2]);
[['#00b0f0',926],['#ffc000',937],['#8497b0',947],['#70ad47',959]].forEach(function(a){L(59,a[1],65,a[1],a[0],1.5);L(62,a[1]-3,62,a[1]+3,a[0],1.5);});
L(310,815,310,970,'#333',0.8);L(310,970,502,970,'#333',0.8);
for(var k=0;k<=6;k++)L(310+32*k,970,310+32*k,973,'#333',0.6);
[827,862,897,932,967].forEach(function(y){L(307,y,310,y,'#333',0.6);});
km([[0,1],[1.4,1],[1.45,0.96],[2.2,0.96],[2.25,0.91],[2.95,0.91],[3.0,0.87],[5.7,0.87]],310,32,827,140,'#0000ff',[1.5,1.7,3.1,3.2,3.4,3.6,4.2,4.7,4.9,5.4,5.5,5.6]);
km([[0,1],[0.45,1],[0.5,0.96],[0.6,0.91],[0.8,0.88],[0.9,0.83],[1.0,0.80],[1.1,0.78],[1.2,0.76],[1.6,0.76],[1.6,0.72],[3.1,0.72],[3.1,0.68],[3.35,0.68],[3.35,0.64],[4.5,0.64],[4.5,0.59],[5.2,0.59],[5.25,0.44],[5.7,0.44]],310,32,827,140,'#ff0000',[1.15,1.25,3.9,4.0,4.1,4.2,4.7,4.8,4.9,5.0,5.1,5.4,5.5]);
[['#0000ff',941],['#ff0000',954]].forEach(function(a){L(321,a[1],329,a[1],a[0],1.6);L(325,a[1]-3,325,a[1]+3,a[0],1.6);});

/* ---- G ---- */
function zc(v){return v>=0?mix('#ffffff','#e8202a',v/4):mix('#ffffff','#2a66c8',-v/4);}
var h1=[[3.5,2,2],[3.5,2,2],[2.5,1.5,1.5],[2.5,2.5,3],[2.5,1.5,1.5],[3,2,1.5],[3,1.5,1.5],[2.5,2.5,1.5],[2,1,1],[2,1,-0.4],[3.5,3.5,2.5],[3.5,2,1],[3.5,1,1],[2.5,2,1.5],[2.5,2.5,3],[2.5,1.5,1.5],[2,2,1],[1.5,1,1.5],[1.5,-0.4,1.5],[3,2.5,1.5],[1.5,1.5,1.5],[2.5,2,1.5]];
var st1=[1,1,1,1,1,1,1,1,1,1,1,0,0,1,1,1,0,1,1,1,0,1];
var h2=[[2,1,-0.3,-0.3],[0,0,-2.5,-1],[-1,-1,-1,-1],[1,1,-0.3,-0.3],[0,0,0,0],[0.5,0.5,-1,-1],[0,0,0,0],[0.5,0.5,0.5,0.5],[0,0,0,0],[0,0,0,0],[1,-0.3,-1,-1],[1.5,1.5,0.5,-0.3],[1.5,1.5,0.5,-0.3],[1,1,-1,-1],[1,1,0.5,0.5],[3.5,2.5,0.5,-1.5],[1,1,0.5,0.5],[0,0,0,0],[0.5,0.5,-3,-3.5],[0,0,0,0],[0.5,0.5,-0.3,-0.3],[-0.3,-0.3,-0.3,-0.3]];
var st2=[0,1,0,0,0,0,0,0,0,0,0,1,1,0,1,1,1,0,1,0,0,0];
var fn=function(i){return i<10?'#8cc63f':i<19?'#ffc000':i<21?'#a9c4e8':'#ed7d31';};
var rh=228/22;
for(var i=0;i<22;i++){var y=86+i*rh;
 for(var j=0;j<3;j++){R(555+j*13,y,13,rh,zc(h1[i][j]));if(st1[i])el('polygon',{points:star(555+j*13+6.5,y+rh/2),fill:'#111'});}
 R(599,y,13,rh,fn(i));
 for(var j=0;j<4;j++){R(620+j*12.75,y,12.75,rh,zc(h2[i][j]));if(st2[i])el('polygon',{points:star(620+j*12.75+6.4,y+rh/2),fill:'#111'});}
 L(555,y,594,y,'#fff',0.5);L(599,y,612,y,'#fff',0.5);L(620,y,671,y,'#fff',0.5);
}
el('rect',{x:555,y:86,width:39,height:228,fill:'none',stroke:'#555','stroke-width':1});
el('rect',{x:599,y:86,width:13,height:228,fill:'none',stroke:'#555','stroke-width':1});
el('rect',{x:620,y:86,width:51,height:228,fill:'none',stroke:'#555','stroke-width':1});
function star(cx,cy){var p=[],R1=2.8,R2=1.2;for(var k=0;k<10;k++){var a=-Math.PI/2+k*Math.PI/5,rr=k%2?R2:R1;p.push((cx+rr*Math.cos(a)).toFixed(2)+','+(cy+rr*Math.sin(a)).toFixed(2));}return p.join(' ');}

/* ---- H ---- */
var hc={0:[[2,.3],[5,.15],[7,.2],[8,.2],[9,.25],[11,.15],[12,.25],[14,.2],[15,.2],[16,.2]],1:[[6,.1],[7,.2],[8,.45],[9,.2],[12,.9],[14,.6],[16,.2]],2:[[5,.2],[7,.25],[9,.6],[15,.15]],3:[[3,.15],[9,1]],4:[[3,.15],[5,.15],[6,.7],[10,.45]],5:[[1,.3]],6:[[7,.3],[8,.35],[16,.35]],7:[[2,.25],[7,.2],[16,.45]],8:[[2,.25],[8,.15],[9,.3],[10,.4],[11,.15]],9:[[4,.35]],10:[[0,.1],[4,.2]],11:[[4,.25]],12:[[10,.15]],13:[[2,.15]],14:[[2,.15]],15:[[1,.15],[8,.25],[11,.2],[13,.15]],16:[[8,.35]],17:[[8,.6]]};
var tum=[.3,.3,.3,.25,.3,.7,.35,.35,.25,.25,0,0,.15,.15,0,.25,.35,.2];
var cw=163/17;
for(var r=0;r<18;r++){var y=401+r*10;
 for(var c=0;c<17;c++){el('rect',{x:543+c*cw,y:y,width:cw,height:10,fill:'#fff',stroke:'#cfcfcf','stroke-width':0.6});}
 (hc[r]||[]).forEach(function(a){el('rect',{x:543+a[0]*cw,y:y,width:cw,height:10,fill:mix('#ffffff','#ee1c1c',a[1]),stroke:'#cfcfcf','stroke-width':0.6});});
 el('rect',{x:711,y:y,width:10,height:10,fill:mix('#ffffff','#ee1c1c',tum[r]),stroke:'#cfcfcf','stroke-width':0.6});
}
})();
</script>
</body></html>
